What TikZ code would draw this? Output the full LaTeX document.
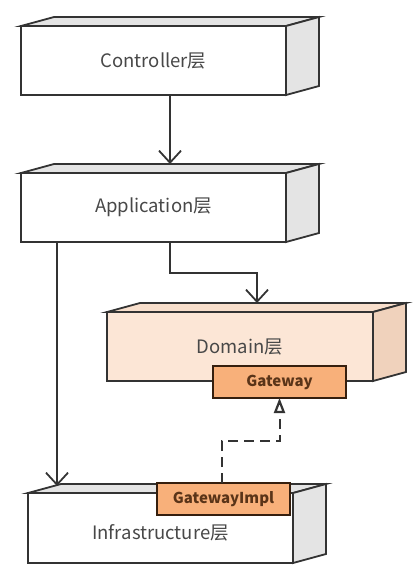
\documentclass[tikz,border=0pt]{standalone}
\usepackage{fontspec}
\setmainfont{Noto Sans CJK SC}
\usepackage{xcolor}
\usetikzlibrary{positioning,arrows.meta}

\definecolor{linegray}{HTML}{333333}
\definecolor{textgray}{HTML}{484848}
\definecolor{sidegray}{HTML}{E4E4E4}
\definecolor{domfront}{HTML}{FCE6D6}
\definecolor{domtop}{HTML}{F8DFCC}
\definecolor{domside}{HTML}{F0D2BC}
\definecolor{gwfill}{HTML}{F8B07A}
\definecolor{gwtext}{HTML}{5A3418}

% top and right faces of a layer block
\newcommand{\layerfaces}[3]{%
  \filldraw[face, fill=#2] (#1.north west) -- ++(33,-9)
    -- ([xshift=33pt,yshift=9pt]#1.north east) -- (#1.north east) -- cycle;
  \filldraw[face, fill=#3] (#1.north east) -- ++(33,-9)
    -- ([xshift=33pt,yshift=9pt]#1.south east) -- (#1.south east) -- cycle;
}

\begin{document}
\begin{tikzpicture}[
    x=1pt, y=-1pt,
    layer/.style={
        rectangle,
        draw=linegray,
        line width=1.8pt,
        fill=white,
        minimum width=265pt,
        minimum height=69pt,
        outer sep=0pt,
        text=textgray,
        font=\fontsize{18.5}{22}\selectfont
    },
    face/.style={
        draw=linegray,
        line width=1.8pt
    },
    port/.style={
        rectangle,
        draw=gwtext!60!black,
        line width=1.8pt,
        fill=gwfill,
        minimum width=133pt,
        minimum height=32pt,
        outer sep=0pt,
        text=gwtext,
        font=\fontsize{15}{18}\selectfont\bfseries
    },
    arrow/.style={
        -{Straight Barb[length=12pt,width=22pt]},
        draw=linegray,
        line width=1.8pt
    },
    realize/.style={
        -{Triangle[open,fill=white,length=15pt,width=11pt,line width=2.2pt]},
        draw=linegray,
        line width=2pt,
        dash pattern=on 10pt off 6pt
    }
]
\useasboundingbox (0,0) rectangle (415,579);

% Controller
\node[layer] (ctrl) at (153.5,60.5) {Controller层};
\layerfaces{ctrl}{sidegray}{sidegray}

% Application
\node[layer] (app) at (153.5,207.5) {Application层};
\layerfaces{app}{sidegray}{sidegray}

% Domain
\node[layer, fill=domfront, minimum width=266pt] (dom) at (240,346.5) {Domain层};
\layerfaces{dom}{domtop}{domside}

% Infrastructure
\node[layer, minimum height=70pt] (infra) at (160.5,528)
    {\raisebox{-5pt}[\height][\depth]{Infrastructure层}};
\layerfaces{infra}{sidegray}{sidegray}

% Gateway ports
\node[port] (gw) at (279.5,382) {Gateway};
\node[port] (gwi) at (223.5,499) {GatewayImpl};

% Connections
\draw[arrow] ([xshift=16.5pt]ctrl.south) -- ([xshift=16.5pt,yshift=9pt]app.north);

\draw[arrow] ([xshift=16.5pt]app.south) -- ++(0,31)
    -| ([xshift=17pt,yshift=9pt]dom.north);

\draw[arrow] ([xshift=36pt]app.south west) -- ([xshift=29pt,yshift=7pt]infra.north west);

\draw[realize] ([xshift=-1.5pt]gwi.north) -- ++(0,-42) -| (gw.south);

\end{tikzpicture}
\end{document}
